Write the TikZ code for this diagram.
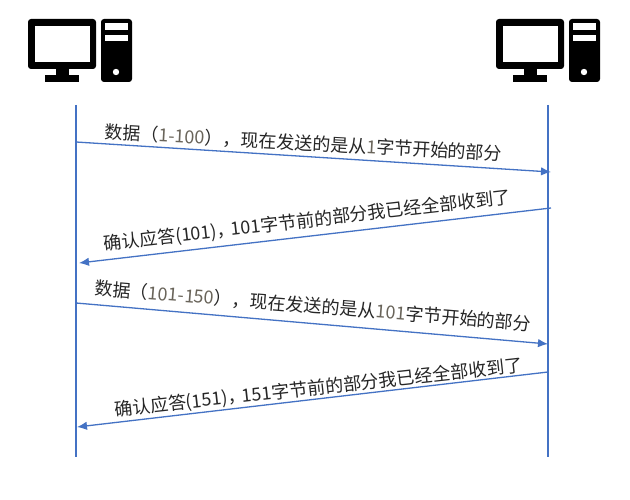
\documentclass[tikz,border=0pt]{standalone}
\usepackage{fontspec}
\setmainfont{Noto Sans CJK SC}
\usetikzlibrary{arrows.meta}
\definecolor{linkblue}{RGB}{68,114,196}
\definecolor{numgray}{RGB}{105,100,90}
\newcommand{\num}[1]{{\color{numgray}#1}}
\tikzset{
  >={Latex[length=10pt,width=8.5pt]},
  life/.style={linkblue,line width=2.2pt},
  msg/.style={linkblue,line width=1.3pt,->},
  lbl/.style={font=\fontsize{18}{18}\selectfont,text=black!85,inner sep=0pt},
  pics/host/.style={code={
    \fill[black,rounded corners=3pt] (0,0) rectangle (68,50);
    \fill[white] (7,7) rectangle (62,43);
    \fill[black] (28,50) rectangle (41,58);
    \fill[black] (17,56) rectangle (51,63);
    \fill[black,rounded corners=3pt] (73,0) rectangle (104,63);
    \fill[white] (77,4) rectangle (100,11);
    \fill[white] (77,16) rectangle (100,22);
    \fill[white] (88,53) circle (3.2);
  }},
}
\begin{document}
\begin{tikzpicture}[x=1pt,y=-1pt]
  \useasboundingbox (0,0) rectangle (630,500);
  \fill[white] (0,0) rectangle (630,500);
  \pic at (28,19) {host};
  \pic at (496,19) {host};
  % two hosts
  \coordinate (lefttop) at (76,105);
  \coordinate (leftend) at (76,457);
  \coordinate (righttop) at (548,105);
  \coordinate (rightend) at (548,457);
  \draw[life] (lefttop)--(leftend);
  \draw[life] (righttop)--(rightend);
  % messages
  \coordinate (a1) at (76,142);
  \coordinate (b1) at (551,172);
  \coordinate (a2) at (551,208);
  \coordinate (b2) at (79,263);
  \coordinate (a3) at (76,303);
  \coordinate (b3) at (548,344);
  \coordinate (a4) at (548,372);
  \coordinate (b4) at (77,427);
  \draw[msg] (a1)--(b1);
  \draw[msg] (a2)--(b2);
  \draw[msg] (a3)--(b3);
  \draw[msg] (a4)--(b4);
  \node[lbl,rotate=-3.2] (data1) at (303.5,143) {数据（\num{1-100}），现在发送的是从\num{1}字节开始的部分};
  \node[lbl,rotate=6.6] (ack1) at (307.5,221) {确认应答(101)，\hspace{-4pt}101字节前的部分我已经全部收到了};
  \node[lbl,rotate=-4.7] (data2) at (313,306) {数据（\num{101-150}），现在发送的是从\num{101}字节开始的部分};
  \node[lbl,rotate=6.4] (ack2) at (318.5,388) {确认应答(151)，\hspace{-4pt}151字节前的部分我已经全部收到了};
\end{tikzpicture}
\end{document}
